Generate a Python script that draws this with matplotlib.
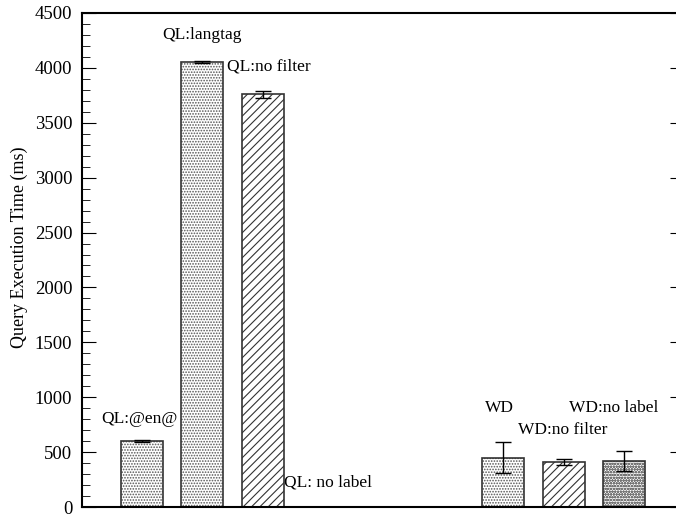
import matplotlib
matplotlib.use("Agg")
import matplotlib.pyplot as plt
from matplotlib.ticker import MultipleLocator

# bar data (ms)
positions = [0, 1, 2, 3, 6, 7, 8]
labels = ["QL:@en@", "QL:langtag", "QL:no filter", "QL: no label",
          "WD", "WD:no filter", "WD:no label"]
times = [600, 4055, 3760, 0, 450, 410, 420]
errors = [10, 8, 30, 0, 140, 30, 90]
hatches = ["......", "......", "////", "", "......", "////", "oooooo"]
hatch_cols = ["#555555", "#555555", "#333333", "#555555", "#555555", "#333333", "#777777"]

# where each label sits (x in bar slots, y in ms)
label_xy = [(-0.05, 800), (1.0, 4300), (2.1, 4010), (3.09, 220),
            (5.93, 900), (6.99, 700), (7.84, 900)]

plt.rcParams['font.family'] = ['Liberation Serif', 'DejaVu Serif']
plt.rcParams['font.size'] = 12.5
plt.rcParams['hatch.linewidth'] = 0.8

fig = plt.figure(figsize=(6.76, 5.16), dpi=100)
ax = fig.add_axes([82/676, 9/516, 602/676, 494/516])

for p, v, e, h, hc in zip(positions, times, errors, hatches, hatch_cols):
	if v == 0:
		continue
	# fill pattern first, then a plain outline on top
	ax.bar(p, v, width=0.7, color="white", edgecolor=hc, hatch=h, linewidth=0)
	ax.bar(p, v, width=0.7, fill=False, edgecolor="#333333", linewidth=1.2)
	ax.errorbar(p, v, yerr=e, color="black", capsize=6, elinewidth=1, capthick=1)

for (x, y), t in zip(label_xy, labels):
	ax.text(x, y, t, ha="center", va="center", fontsize=12.5)

ax.set_xlim(-1, 9)
ax.set_ylim(0, 4500)
ax.yaxis.set_major_locator(MultipleLocator(500))
ax.yaxis.set_minor_locator(MultipleLocator(100))
ax.tick_params(axis='y', which='major', direction='in', length=10, right=True,
               labelsize=13.5, pad=7)
ax.tick_params(axis='y', which='minor', direction='in', length=6)
ax.tick_params(axis='x', bottom=False, labelbottom=False)
for s in ax.spines.values():
	s.set_linewidth(1.5)
ax.set_ylabel('Query Execution Time (ms)', fontsize=13)
ax.yaxis.set_label_coords(-0.09, 0.526)

fig.savefig("out.png", dpi=100)
